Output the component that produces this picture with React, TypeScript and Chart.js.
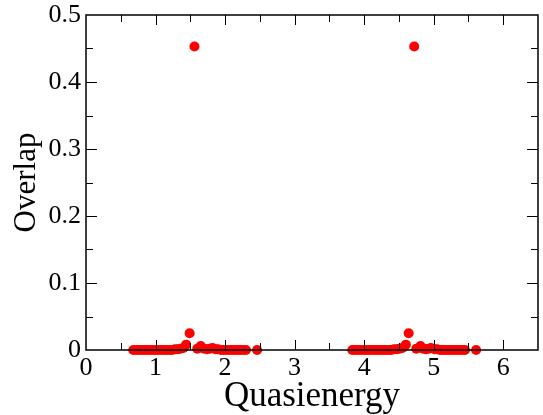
import React, { useEffect, useRef } from "react";
import { Chart, registerables } from "chart.js";

Chart.register(...registerables);

// Quasienergy / overlap values, first band
const quasiA = [
  0.68, 0.72, 0.76, 0.8, 0.84, 0.88, 0.92, 0.96, 1.0, 1.04, 1.08, 1.12, 1.16, 1.2, 1.24,
  1.28, 1.32, 1.36, 1.4, 1.44, 1.49, 1.56, 1.6, 1.65, 1.7, 1.74, 1.78, 1.82, 1.86, 1.9,
  1.94, 1.98, 2.02, 2.06, 2.1, 2.14, 2.18, 2.22, 2.26, 2.3, 2.46,
];
const overlapA = [
  0, 0, 0, 0, 0, 0, 0, 0, 0, 0, 0, 0, 0, 0, 0,
  0.001, 0.001, 0.002, 0.003, 0.008, 0.025, 0.453, 0.002, 0.006, 0.002, 0.001, 0.002, 0.003, 0.001, 0.001,
  0, 0, 0, 0, 0, 0, 0, 0, 0, 0, 0,
];
// second band
const quasiB = [
  3.83, 3.87, 3.91, 3.95, 3.99, 4.03, 4.07, 4.11, 4.15, 4.19, 4.23, 4.27, 4.31, 4.35, 4.39,
  4.43, 4.47, 4.51, 4.55, 4.6, 4.64, 4.72, 4.75, 4.81, 4.85, 4.89, 4.93, 4.96, 5.01, 5.05,
  5.09, 5.13, 5.17, 5.21, 5.25, 5.29, 5.33, 5.37, 5.41, 5.45, 5.61,
];
const overlapB = [
  0, 0, 0, 0, 0, 0, 0, 0, 0, 0, 0, 0, 0, 0, 0,
  0.001, 0.001, 0.002, 0.003, 0.008, 0.025, 0.453, 0.002, 0.006, 0.002, 0.001, 0.002, 0.003, 0.001, 0.001,
  0, 0, 0, 0, 0, 0, 0, 0, 0, 0, 0,
];

const xMin = 0;
const xMax = 6.5;
const xStep = 0.5;
const yMin = 0;
const yMax = 0.5;
const yStep = 0.05;

const FONT = '"Liberation Serif"';
Chart.defaults.font.family = FONT;
Chart.defaults.color = "#000";

const frameTicks = {
  id: "frameTicks",
  afterDatasetsDraw(chart: any) {
    const { ctx, chartArea, scales } = chart;
    const { left, right, top, bottom } = chartArea;
    const x = scales.x;
    const y = scales.y;
    ctx.save();
    ctx.strokeStyle = "#000";
    ctx.lineWidth = 1;
    ctx.beginPath();
    x.ticks.forEach((t: any) => {
      const px = Math.round(x.getPixelForValue(t.value)) + 0.5;
      if (px <= left + 1 || px >= right - 1) return;
      const major = Math.abs(t.value - Math.round(t.value)) < 1e-6;
      const len = major ? 10 : 7;
      ctx.moveTo(px, bottom);
      ctx.lineTo(px, bottom - len);
      ctx.moveTo(px, top);
      ctx.lineTo(px, top + len);
    });
    y.ticks.forEach((t: any) => {
      const py = Math.round(y.getPixelForValue(t.value)) + 0.5;
      if (py <= top + 1 || py >= bottom - 1) return;
      const v = t.value * 10;
      const major = Math.abs(v - Math.round(v)) < 1e-6;
      const len = major ? 11 : 7;
      ctx.moveTo(left, py);
      ctx.lineTo(left + len, py);
      ctx.moveTo(right, py);
      ctx.lineTo(right - len, py);
    });
    ctx.stroke();
    ctx.lineWidth = 1.5;
    ctx.strokeRect(left, top, right - left, bottom - top);
    ctx.restore();
  },
};

export default function App() {
  const ref = useRef<HTMLCanvasElement | null>(null);

  useEffect(() => {
    document.body.style.margin = "0";
    const canvas = ref.current;
    if (!canvas) return;
    const toPts = (xs: number[], ys: number[]) => xs.map((v, i) => ({ x: v, y: ys[i] }));
    const chart = new Chart(canvas, {
      type: "scatter",
      data: {
        datasets: [
          {
            data: [...toPts(quasiA, overlapA), ...toPts(quasiB, overlapB)],
            backgroundColor: "#ff0000",
            borderWidth: 0,
            pointRadius: 5,
            pointHoverRadius: 5,
            clip: false,
          } as any,
        ],
      },
      options: {
        animation: false,
        responsive: false,
        events: [],
        font: { family: FONT },
        layout: { padding: { top: 15, right: 5, left: 0, bottom: 0 } },
        plugins: { legend: { display: false }, tooltip: { enabled: false } },
        scales: {
          x: {
            type: "linear",
            min: xMin,
            max: xMax,
            grid: { display: false, drawTicks: false },
            border: { display: false },
            ticks: {
              stepSize: xStep,
              autoSkip: false,
              maxRotation: 0,
              padding: 3,
              color: "#000",
              font: { family: FONT, size: 26 },
              callback: (v: any) => (Math.abs(v - Math.round(v)) < 1e-6 ? String(Math.round(v)) : ""),
            },
            title: {
              display: true,
              text: "Quasienergy",
              color: "#000",
              font: { family: FONT, size: 35 },
              padding: { top: 0, bottom: -3 },
            },
            afterFit: (s: any) => {
              s.height = 65;
              s.paddingLeft = 0;
              s.paddingRight = 0;
            },
          },
          y: {
            type: "linear",
            min: yMin,
            max: yMax,
            grid: { display: false, drawTicks: false },
            border: { display: false },
            ticks: {
              stepSize: yStep,
              autoSkip: false,
              padding: 5,
              color: "#000",
              font: { family: FONT, size: 26 },
              callback: (v: any) => {
                const t = v * 10;
                if (Math.abs(t - Math.round(t)) > 1e-6) return "";
                return Math.round(t) === 0 ? "0" : (Math.round(t) / 10).toFixed(1);
              },
            },
            title: {
              display: true,
              text: "Overlap",
              color: "#000",
              font: { family: FONT, size: 31 },
              padding: { top: 8, bottom: 0 },
            },
            afterFit: (s: any) => {
              s.width = 86;
              s.paddingTop = 0;
              s.paddingBottom = 0;
            },
          },
        },
      } as any,
      plugins: [frameTicks],
    });
    return () => chart.destroy();
  }, []);

  return (
    <div style={{ width: 543, height: 415 }}>
      <canvas ref={ref} width={543} height={415} style={{ display: "block" }} />
    </div>
  );
}
